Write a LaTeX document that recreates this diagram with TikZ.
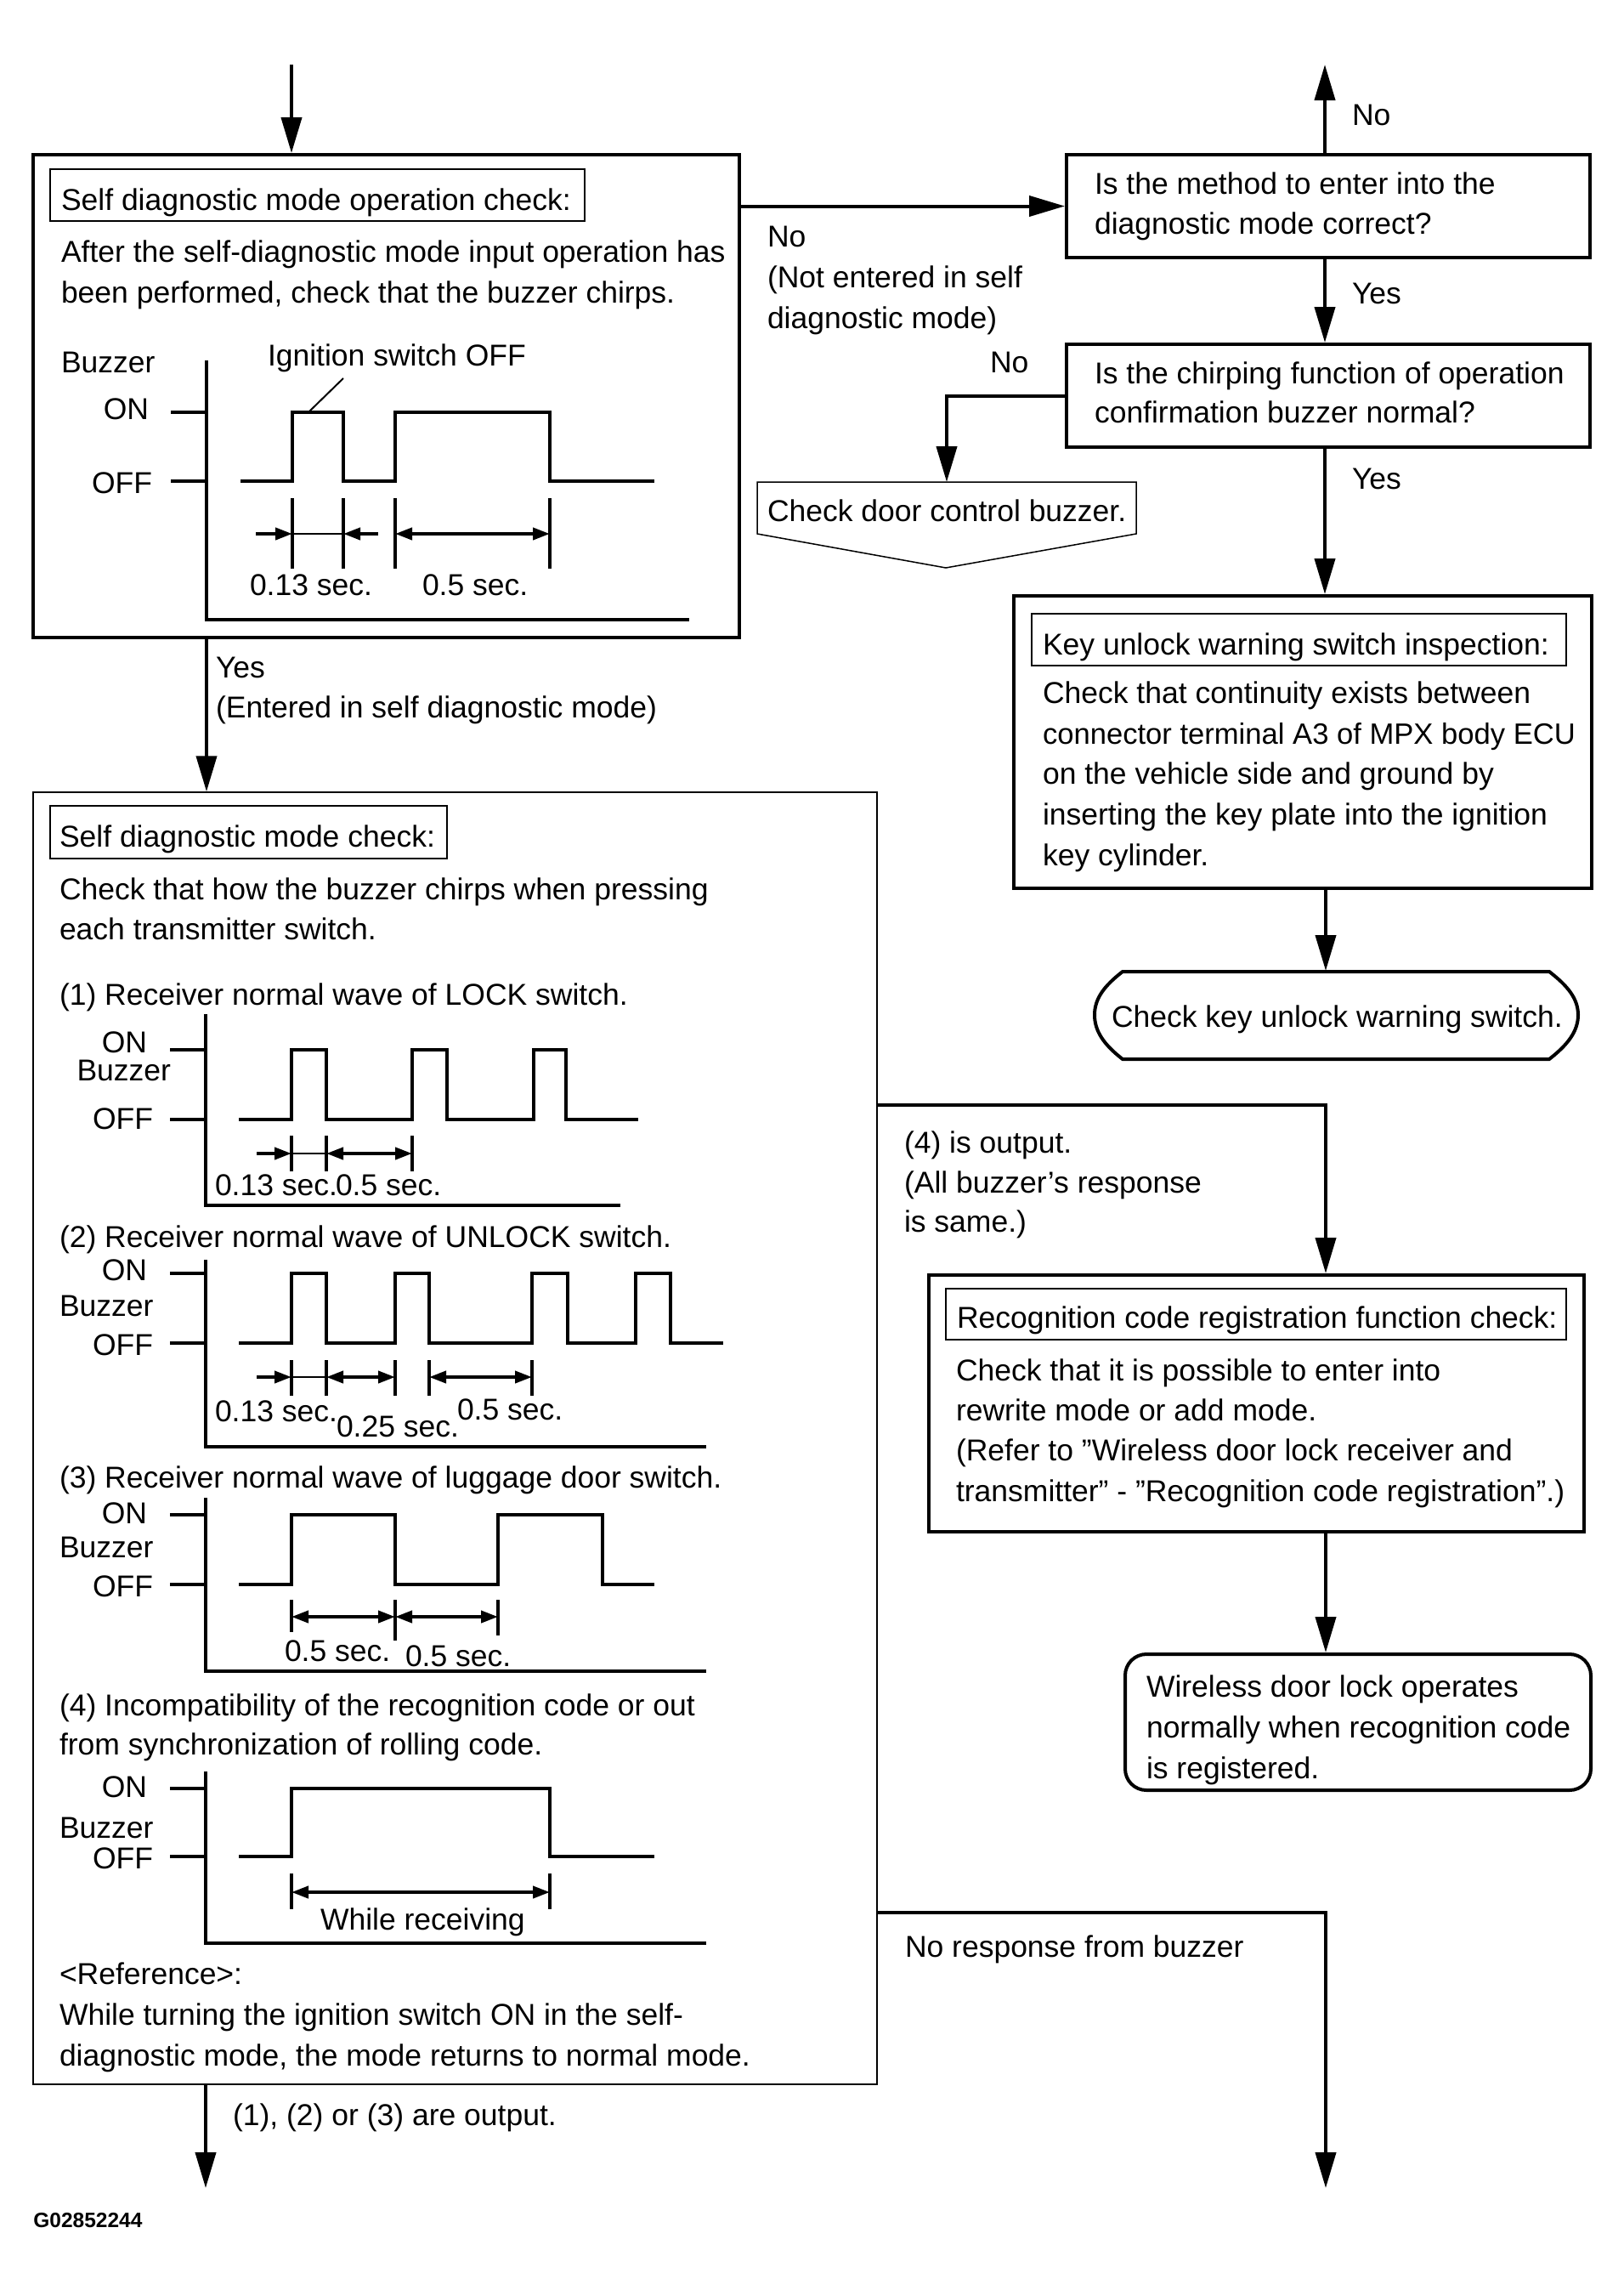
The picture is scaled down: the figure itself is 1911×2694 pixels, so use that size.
\documentclass[tikz,border=0pt]{standalone}
\usepackage{fontspec}
\setmainfont{Liberation Sans}
\usetikzlibrary{arrows.meta}
\newcommand\tf{\fontsize{17.75pt}{23.75pt}\selectfont}
\newcommand\Ln[4][lbl]{\node[#1] (#2) at #3 {#4};}
\begin{document}
\begin{tikzpicture}[x=0.5pt,y=-0.5pt,
 lbl/.style={inner sep=0pt, outer sep=0pt, anchor=base west, font=\tf},
 lble/.style={lbl, anchor=base east},
 thickbox/.style={draw, line width=2pt, inner sep=0pt},
 thinbox/.style={draw, line width=0.75pt, inner sep=0pt},
 holder/.style={inner sep=0pt, outer sep=0pt},
 flow/.style={line width=2pt, -{Triangle[length=21pt,width=12pt]}},
 wave/.style={line width=1.75pt},
 dimtick/.style={line width=1.6pt},
 dimar/.style={line width=2pt, {Triangle[length=10pt,width=7pt]}-{Triangle[length=10pt,width=7pt]}},
 dimr/.style={line width=2pt, -{Triangle[length=10pt,width=7pt]}},
 dimthin/.style={line width=1.2pt}]
\useasboundingbox (0,0) rectangle (1911,2694);

% ---------------- boxes ----------------
\node[thickbox, minimum width=415.5pt, minimum height=284pt] (box1) at (454.5,466) {};
\node[thinbox, minimum width=314.5pt, minimum height=30.5pt] (b1tb) at (373.5,229.5) {};
\node[thickbox, minimum width=308pt, minimum height=60.5pt] (q1) at (1563,242.5) {};
\node[thickbox, minimum width=308pt, minimum height=60.5pt] (q2) at (1563,465.5) {};
\node[holder, minimum width=223pt, minimum height=30.5pt] (door) at (1114,597.5) {};
\draw[line width=0.75pt] (891,567) -- (1337,567) -- (1337,628) -- (1113,668) -- (891,628) -- cycle;
\node[thickbox, minimum width=340pt, minimum height=172pt] (key) at (1533,873) {};
\node[thinbox, minimum width=314.5pt, minimum height=30.5pt] (keytb) at (1528.5,752.5) {};
\node[holder, minimum width=284pt, minimum height=52pt] (ckey) at (1573,1194) {};
\draw[line width=2pt] (1321,1143) -- (1823,1143) .. controls (1845,1160) and (1857,1175) .. (1857,1194)
  .. controls (1857,1213) and (1845,1229) .. (1823,1246) -- (1321,1246)
  .. controls (1299,1229) and (1288,1213) .. (1288,1194) .. controls (1288,1175) and (1299,1160) .. cycle;
\node[thickbox, minimum width=385.5pt, minimum height=151pt] (recog) at (1478.5,1651) {};
\node[thinbox, minimum width=365pt, minimum height=30pt] (rectb) at (1478,1546) {};
\node[thickbox, rounded corners=12.5pt, minimum width=274pt, minimum height=80pt] (wless) at (1598,2026) {};
\node[thinbox, minimum width=496.5pt, minimum height=760pt] (box2) at (535.5,1692) {};
\node[thinbox, minimum width=233.5pt, minimum height=31pt] (b2tb) at (292.5,979) {};

% ---------------- connectors ----------------
\coordinate (start) at (343,76);
\coordinate (endNo) at (1559,76);
\coordinate (colL) at (243,800);
\coordinate (j1) at (1560,1300);
\coordinate (j2) at (1560,2250);
\coordinate (endR) at (1560,2574);
\coordinate (endL) at (242,2574);
\draw[flow] (start) -- (start |- box1.north);
\draw[flow] (box1.east |- q1.west) -- (q1.west);
\draw[flow] (endNo |- q1.north) -- (endNo);
\draw[flow] (endNo |- q1.south) -- (endNo |- q2.north);
\draw[flow] (q2.west) -| (door.north);
\draw[flow] (endNo |- q2.south) -- (endNo |- key.north);
\draw[flow] (j1 |- key.south) -- (j1 |- ckey.north);
\draw[flow] (colL |- box1.south) -- (colL |- box2.north);
\draw[flow] (box2.east |- j1) -- (j1) -- (j1 |- recog.north);
\draw[flow] (j1 |- recog.south) -- (j1 |- wless.north);
\draw[flow] (box2.east |- j2) -- (j2) -- (endR);
\draw[flow] (endL |- box2.south) -- (endL);

% ---------------- texts: box 1 ----------------
\Ln{b1t}{(72,247)}{Self diagnostic mode operation check:}
\Ln{b1a}{(72,308)}{After the self-diagnostic mode input operation has}
\Ln{b1b}{(72,356)}{been performed, check that the buzzer chirps.}
\Ln{b1buz}{(72,438)}{Buzzer}
\Ln[lble]{b1on}{(175,493)}{ON}
\Ln[lble]{b1off}{(179,580)}{OFF}
\Ln{b1ign}{(315,430)}{Ignition switch OFF}
\Ln{b1d1}{(294,700)}{0.13 sec.}
\Ln{b1d2}{(497,700)}{0.5 sec.}
% chart in box 1
\draw[wave] (243,424) -- (243,729) -- (811,729);
\draw[wave] (201,485) -- (243,485);
\draw[wave] (201,566) -- (243,566);
\draw[wave] (283,566) -- (344,566) -- (344,485) -- (404,485) -- (404,566) -- (465,566) -- (465,485) -- (647,485) -- (647,566) -- (770,566);
\draw[line width=1pt] (404,445) -- (364,484);
\foreach \x in {344,404,465,647} \draw[dimtick] (\x,586) -- (\x,669);
\draw[dimr] (301,628) -- (344,628);
\draw[dimr] (445,628) -- (404,628);
\draw[dimthin] (344,628) -- (404,628);
\draw[dimar] (465,628) -- (647,628);

% ---------------- texts: right column ----------------
\Ln{noTop}{(1591,147)}{No}
\Ln{no1a}{(903,290)}{No}
\Ln{no1b}{(903,338)}{(Not entered in self}
\Ln{no1c}{(903,386)}{diagnostic mode)}
\Ln{q1a}{(1288,228)}{Is the method to enter into the}
\Ln{q1b}{(1288,275)}{diagnostic mode correct?}
\Ln{yes1}{(1591,357)}{Yes}
\Ln{no2}{(1165,438)}{No}
\Ln{q2a}{(1288,451)}{Is the chirping function of operation}
\Ln{q2b}{(1288,497)}{confirmation buzzer normal?}
\Ln{doort}{(903,613)}{Check door control buzzer.}
\Ln{yes2}{(1591,575)}{Yes}
\Ln{keyt}{(1227,770)}{Key unlock warning switch inspection:}
\Ln{keya}{(1227,827)}{Check that continuity exists between}
\node[lbl, font=\fontsize{17.3pt}{23.75pt}\selectfont] (keyb) at (1227,875) {connector terminal A3 of MPX body ECU};
\Ln{keyc}{(1227,922)}{on the vehicle side and ground by}
\Ln{keyd}{(1227,970)}{inserting the key plate into the ignition}
\Ln{keye}{(1227,1018)}{key cylinder.}
\Ln{ckeyt}{(1308,1208)}{Check key unlock warning switch.}
\Ln{out4a}{(1064,1356)}{(4) is output.}
\Ln{out4b}{(1064,1403)}{(All buzzer’s response}
\Ln{out4c}{(1064,1449)}{is same.)}
\Ln{rect}{(1126,1562)}{Recognition code registration function check:}
\Ln{reca}{(1125,1624)}{Check that it is possible to enter into}
\Ln{recb}{(1125,1671)}{rewrite mode or add mode.}
\Ln{recc}{(1125,1718)}{(Refer to ”Wireless door lock receiver and}
\Ln{recd}{(1125,1766)}{transmitter” - ”Recognition code registration”.)}
\Ln{wla}{(1349,1996)}{Wireless door lock operates}
\Ln{wlb}{(1349,2044)}{normally when recognition code}
\Ln{wlc}{(1349,2092)}{is registered.}
\Ln{noresp}{(1065,2302)}{No response from buzzer}

% ---------------- texts: box 2 ----------------
\Ln{yes3a}{(254,797)}{Yes}
\Ln{yes3b}{(254,844)}{(Entered in self diagnostic mode)}
\Ln{b2t}{(70,996)}{Self diagnostic mode check:}
\Ln{b2a}{(70,1058)}{Check that how the buzzer chirps when pressing}
\Ln{b2b}{(70,1105)}{each transmitter switch.}
\Ln{c1h}{(70,1182)}{(1) Receiver normal wave of LOCK switch.}
\Ln[lble]{c1on}{(173,1238)}{ON}
\Ln[lble]{c1buz}{(201,1271)}{Buzzer}
\Ln[lble]{c1off}{(180,1328)}{OFF}
\Ln{c1d1}{(253,1406)}{0.13 sec.}
\Ln{c1d2}{(395,1406)}{0.5 sec.}
\Ln{c2h}{(70,1467)}{(2) Receiver normal wave of UNLOCK switch.}
\Ln[lble]{c2on}{(173,1506)}{ON}
\Ln{c2buz}{(70,1548)}{Buzzer}
\Ln[lble]{c2off}{(180,1594)}{OFF}
\Ln{c2d1}{(253,1672)}{0.13 sec.}
\Ln{c2d2}{(396,1690)}{0.25 sec.}
\Ln{c2d3}{(538,1670)}{0.5 sec.}
\Ln{c3h}{(70,1750)}{(3) Receiver normal wave of luggage door switch.}
\Ln[lble]{c3on}{(173,1792)}{ON}
\Ln{c3buz}{(70,1832)}{Buzzer}
\Ln[lble]{c3off}{(180,1878)}{OFF}
\Ln{c3d1}{(335,1954)}{0.5 sec.}
\Ln{c3d2}{(477,1960)}{0.5 sec.}
\Ln{c4h}{(70,2018)}{(4) Incompatibility of the recognition code or out}
\Ln{c4h2}{(70,2064)}{from synchronization of rolling code.}
\Ln[lble]{c4on}{(173,2114)}{ON}
\Ln{c4buz}{(70,2162)}{Buzzer}
\Ln[lble]{c4off}{(180,2198)}{OFF}
\Ln{c4d}{(377,2270)}{While receiving}
\Ln{refa}{(70,2334)}{<Reference>:}
\Ln{refb}{(70,2382)}{While turning the ignition switch ON in the self-}
\Ln{refc}{(70,2430)}{diagnostic mode, the mode returns to normal mode.}
\Ln{outL}{(274,2500)}{(1), (2) or (3) are output.}
\node[inner sep=0pt, anchor=base west, font=\fontsize{12.25pt}{15pt}\selectfont\bfseries] (gid) at (39,2620) {G02852244};

% chart 1
\draw[wave] (242,1193) -- (242,1418) -- (730,1418);
\draw[wave] (200,1235) -- (242,1235);
\draw[wave] (200,1317) -- (242,1317);
\draw[wave] (281,1317) -- (343,1317) -- (343,1235) -- (384,1235) -- (384,1317) -- (485,1317) -- (485,1235) -- (526,1235) -- (526,1317) -- (628,1317) -- (628,1235) -- (666,1235) -- (666,1317) -- (751,1317);
\foreach \x in {343,384,485} \draw[dimtick] (\x,1336) -- (\x,1378);
\draw[dimr] (302,1357) -- (343,1357);
\draw[dimthin] (343,1357) -- (384,1357);
\draw[dimar] (384,1357) -- (485,1357);
% chart 2
\draw[wave] (242,1482) -- (242,1702) -- (831,1702);
\draw[wave] (200,1498) -- (242,1498);
\draw[wave] (200,1580) -- (242,1580);
\draw[wave] (281,1580) -- (343,1580) -- (343,1498) -- (384,1498) -- (384,1580) -- (465,1580) -- (465,1498) -- (505,1498) -- (505,1580) -- (626,1580) -- (626,1498) -- (668,1498) -- (668,1580) -- (748,1580) -- (748,1498) -- (789,1498) -- (789,1580) -- (851,1580);
\foreach \x in {343,384,465,505,626} \draw[dimtick] (\x,1600) -- (\x,1642);
\draw[dimr] (302,1620) -- (343,1620);
\draw[dimthin] (343,1620) -- (384,1620);
\draw[dimar] (384,1620) -- (465,1620);
\draw[dimar] (505,1620) -- (626,1620);
% chart 3
\draw[wave] (242,1762) -- (242,1966) -- (831,1966);
\draw[wave] (200,1782) -- (242,1782);
\draw[wave] (200,1864) -- (242,1864);
\draw[wave] (281,1864) -- (343,1864) -- (343,1782) -- (465,1782) -- (465,1864) -- (586,1864) -- (586,1782) -- (709,1782) -- (709,1864) -- (770,1864);
\draw[dimtick] (343,1882) -- (343,1920);
\draw[dimtick] (465,1882) -- (465,1930);
\draw[dimtick] (586,1882) -- (586,1924);
\draw[dimar] (343,1902) -- (465,1902);
\draw[dimar] (465,1902) -- (586,1902);
% chart 4
\draw[wave] (242,2084) -- (242,2286) -- (831,2286);
\draw[wave] (200,2104) -- (242,2104);
\draw[wave] (200,2184) -- (242,2184);
\draw[wave] (281,2184) -- (343,2184) -- (343,2104) -- (647,2104) -- (647,2184) -- (770,2184);
\foreach \x in {343,647} \draw[dimtick] (\x,2204) -- (\x,2246);
\draw[dimar] (343,2226) -- (647,2226);
\end{tikzpicture}
\end{document}
